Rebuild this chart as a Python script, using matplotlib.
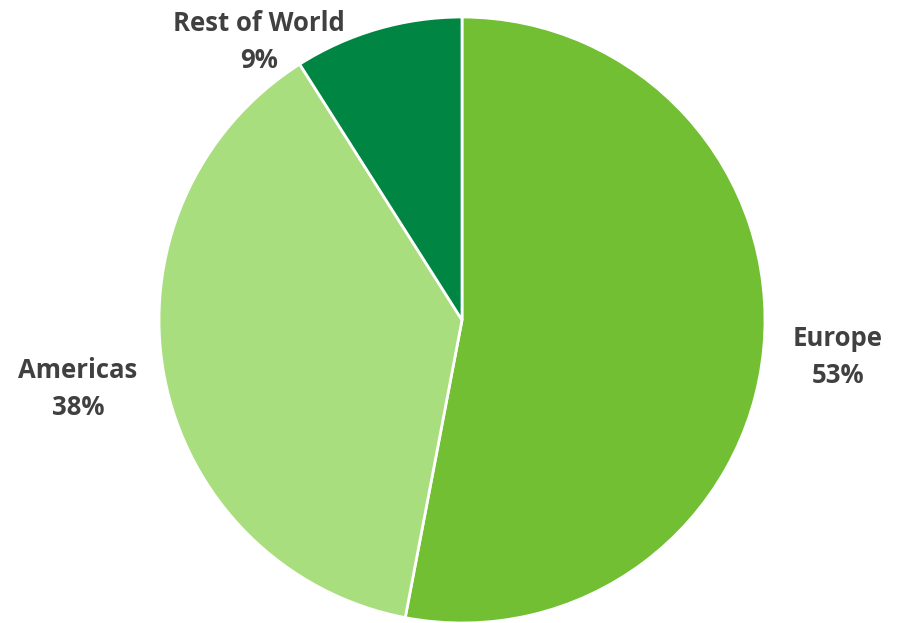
import matplotlib
matplotlib.use("Agg")
import matplotlib.pyplot as plt

regions = ["Europe", "Americas", "Rest of World"]
shares = [53, 38, 9]
colors = ["#72BF33", "#A9DE7F", "#008542"]

# label positions in pie units (radius = 1)
label_pos = [(1.241, -0.122), (-1.267, -0.228), (-0.670, 0.917)]

plt.rcParams['font.family'] = ['Open Sans', 'DejaVu Sans']

fig = plt.figure(figsize=(9, 6.23), dpi=100)
r_px = 303
cx, cy = 462, 623 - 320
ax = fig.add_axes([(cx - r_px) / 900, (cy - r_px) / 623, 2 * r_px / 900, 2 * r_px / 623])

ax.pie(shares, colors=colors, startangle=90, counterclock=False,
       wedgeprops=dict(edgecolor="white", linewidth=2))
ax.set_xlim(-1, 1)
ax.set_ylim(-1, 1)
ax.set_aspect("equal")
ax.axis("off")

for name, val, (x, y) in zip(regions, shares, label_pos):
    ax.text(x, y, f"{name}\n{val}%", ha="center", va="center", fontsize=18.5,
            fontweight="bold", color="#404040", linespacing=1.45, clip_on=False)

fig.savefig("out.png", dpi=100)
